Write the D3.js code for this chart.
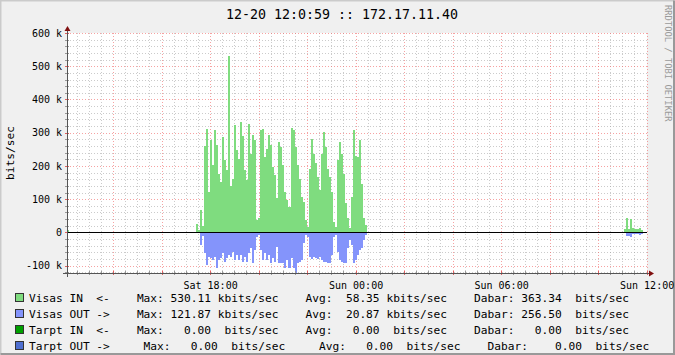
<!DOCTYPE html>
<html><head><meta charset="utf-8">
<script src="https://cdn.jsdelivr.net/npm/d3@7"></script>
<style>
html,body{margin:0;padding:0;background:#f0f0f0;}
svg{display:block;}
text{font-family:"DejaVu Sans Mono",monospace;}
</style></head><body>
<svg id="chart" width="675" height="355"></svg>
<script>
// ---------- data ----------
const chartTitle = "12-20 12:0:59 :: 172.17.11.40";
const unitLabel = "bits/sec";
const watermark = "RRDTOOL / TOBI OETIKER";
const domainStart = "2020-12-19T12:06";
const domainEnd = "2020-12-20T12:01";
const xLabelTimes = ["2020-12-19T18:00", "2020-12-20T00:00", "2020-12-20T06:00", "2020-12-20T12:00"];
const xLabels = ["Sat 18:00", "Sun 00:00", "Sun 06:00", "Sun 12:00"];
const yTicks = [-100, 0, 100, 200, 300, 400, 500, 600];           // kbits/sec
const yTickLabels = ["-100 k", "0", "100 k", "200 k", "300 k", "400 k", "500 k", "600 k"];
const yMin = -122.2, yMax = 600;
const stepMinutes = 5;

// segment 0 (single sample at start)
const seg0Start = "2020-12-19T12:06";
const visasIn0 = [6];
const visasOut0 = [0];
// segment 1 (Sat evening), kbits/sec
const seg1Start = "2020-12-19T17:24";
const visasIn1 = [26,7,67,20,259,310,122,279,202,307,
  262,177,152,287,217,187,530,139,162,322,
  247,222,332,289,187,157,325,235,294,279,
  37,42,307,312,227,252,292,262,197,172,
  102,272,257,202,122,97,77,315,307,257,
  202,162,107,92,37,15,190,282,237,209,
  167,127,237,302,257,192,167,122,32,17,
  217,272,237,177,87,42,12,107,309,229,
  227,279,147,42,22];
const visasOut1 = [0,0,38,10,63,98,73,78,83,73,
  108,83,78,63,88,78,68,73,58,83,
  68,83,68,88,73,88,63,48,93,53,
  13,8,53,83,63,83,68,93,78,88,
  43,93,93,93,108,83,108,78,108,122,
  93,88,83,33,8,13,73,81,75,78,
  81,73,83,88,88,93,93,68,13,8,
  58,83,88,93,93,48,23,38,93,83,
  68,53,48,23,8];
// segment 2 (Sun late morning)
const seg2Start = "2020-12-20T11:05";
const visasIn2 = [10,44,10,40,14,10,10,14,6];
const visasOut2 = [0,10,10,14,6,6,6,8,6];

// legend
const legendNames = ["Visas IN  <-", "Visas OUT ->", "Tarpt IN  <-", "Tarpt OUT ->"];
const maxValues = ["530.11", "121.87", "0.00", "0.00"];
const maxUnits = ["kbits/sec", "kbits/sec", "bits/sec", "bits/sec"];
const avgValues = ["58.35", "20.87", "0.00", "0.00"];
const avgUnits = ["kbits/sec", "kbits/sec", "bits/sec", "bits/sec"];
const curValues = ["363.34", "256.50", "0.00", "0.00"];
const curUnits = ["bits/sec", "bits/sec", "bits/sec", "bits/sec"];

// ---------- style ----------
const IN_COLOR = "#7fdc7f", OUT_COLOR = "#8494fb";
const legendColors = ["#7fdc7f", "#8494fb", "#00a000", "#4f6fd0"];
const MONO = '"DejaVu Sans Mono", monospace';

const parse = d3.timeParse("%Y-%m-%dT%H:%M");
const svg = d3.select("#chart");
const W = 675, H = 355;
const P = {left: 67, right: 647, top: 33, bottom: 273};

const x = d3.scaleTime().domain([parse(domainStart), parse(domainEnd)]).range([P.left, P.right]);
const y = d3.scaleLinear().domain([yMin, yMax]).range([P.bottom, P.top]);

// background + frame
svg.append("rect").attr("width", W).attr("height", H).attr("fill", "#f0f0f0");
svg.append("rect").attr("x", P.left).attr("y", P.top).attr("width", P.right - P.left).attr("height", P.bottom - P.top).attr("fill", "#fff");
svg.append("path").attr("d", `M0.5,${H-0.5}V0.5H${W-0.5}`).attr("stroke", "#cbcbcb").attr("fill", "none").attr("stroke-width", 2);
svg.append("path").attr("d", `M0.5,${H-1}H${W-1}V0.5`).attr("stroke", "#999").attr("fill", "none").attr("stroke-width", 2);

// grid (drawn beneath the data)
const grid = svg.append("g").attr("shape-rendering", "crispEdges");
const minorX = d3.timeMinute.every(30).range(parse(domainStart), parse(domainEnd));
const majorX = d3.timeHour.every(2).range(parse(domainStart), parse(domainEnd));
const isMajorT = t => t.getMinutes() === 0 && t.getHours() % 2 === 0;
const minorY = d3.range(-120, 601, 20).filter(v => v % 100 !== 0);
const majorY = d3.range(-100, 601, 100);
const minorStroke = "rgba(160,160,160,0.55)", majorStroke = "rgba(240,100,100,0.6)";
minorX.filter(t => !isMajorT(t)).forEach(t => {
  grid.append("line").attr("x1", Math.round(x(t)) + 0.5).attr("x2", Math.round(x(t)) + 0.5)
    .attr("y1", P.top).attr("y2", P.bottom).attr("stroke", minorStroke).attr("stroke-dasharray", "1,2");
});
minorY.forEach(v => {
  grid.append("line").attr("y1", Math.round(y(v)) + 0.5).attr("y2", Math.round(y(v)) + 0.5)
    .attr("x1", P.left).attr("x2", P.right).attr("stroke", minorStroke).attr("stroke-dasharray", "1,2");
});
majorX.forEach(t => {
  grid.append("line").attr("x1", Math.round(x(t)) + 0.5).attr("x2", Math.round(x(t)) + 0.5)
    .attr("y1", P.top).attr("y2", P.bottom).attr("stroke", majorStroke).attr("stroke-dasharray", "1,2");
});
majorY.filter(v => v !== 0).forEach(v => {
  grid.append("line").attr("y1", Math.round(y(v)) + 0.5).attr("y2", Math.round(y(v)) + 0.5)
    .attr("x1", P.left).attr("x2", P.right).attr("stroke", majorStroke).attr("stroke-dasharray", "1,2");
});

// bars
function drawSeries(start, inVals, outVals) {
  const t0 = parse(start);
  const times = inVals.map((_, i) => d3.timeMinute.offset(t0, i * stepMinutes));
  const x0 = i => Math.round(x(times[i]));
  const x1 = i => Math.round(x(d3.timeMinute.offset(times[i], stepMinutes)));
  const y0 = Math.round(y(0));
  const g = svg.append("g").attr("shape-rendering", "crispEdges");
  g.selectAll("rect.in").data(inVals).join("rect")
    .attr("x", (d, i) => x0(i))
    .attr("width", (d, i) => x1(i) - x0(i))
    .attr("y", d => Math.round(y(d))).attr("height", d => y0 - Math.round(y(d)))
    .attr("fill", IN_COLOR);
  g.selectAll("rect.out").data(outVals).join("rect")
    .attr("x", (d, i) => x0(i))
    .attr("width", (d, i) => x1(i) - x0(i))
    .attr("y", y0).attr("height", d => Math.round(y(-d)) - y0)
    .attr("fill", OUT_COLOR);
}
drawSeries(seg0Start, visasIn0, visasOut0);
drawSeries(seg1Start, visasIn1, visasOut1);
drawSeries(seg2Start, visasIn2, visasOut2);

// axis ticks
const tickG = svg.append("g").attr("shape-rendering", "crispEdges");
minorX.forEach(t => {
  const xx = Math.round(x(t)) + 0.5;
  tickG.append("line").attr("x1", xx).attr("x2", xx).attr("y1", P.bottom - 2).attr("y2", P.bottom + 2)
    .attr("stroke", isMajorT(t) ? "#e06060" : "#999");
});
d3.range(-120, 601, 20).forEach(v => {
  const yy = Math.round(y(v)) + 0.5;
  tickG.append("line").attr("y1", yy).attr("y2", yy).attr("x1", P.left - 2).attr("x2", P.left + 2)
    .attr("stroke", v % 100 === 0 ? "#e06060" : "#999");
});

// zero line
svg.append("line").attr("x1", P.left).attr("x2", P.right).attr("y1", Math.round(y(0)) + 0.5).attr("y2", Math.round(y(0)) + 0.5)
  .attr("stroke", "#000").attr("stroke-width", 1).attr("shape-rendering", "crispEdges");

// axis lines + arrows
const AX = "#555", ARROW = "#801010";
svg.append("line").attr("x1", P.left + 0.5).attr("x2", P.left + 0.5).attr("y1", P.top - 3).attr("y2", P.bottom + 4)
  .attr("stroke", AX).attr("shape-rendering", "crispEdges");
svg.append("line").attr("x1", P.left - 4).attr("x2", P.right + 4).attr("y1", P.bottom + 0.5).attr("y2", P.bottom + 0.5)
  .attr("stroke", AX).attr("shape-rendering", "crispEdges");
svg.append("path").attr("d", `M${P.left + 0.5},${P.top - 7}L${P.left - 2.5},${P.top - 2}L${P.left + 3.5},${P.top - 2}Z`).attr("fill", ARROW);
svg.append("path").attr("d", `M${P.right + 7},${P.bottom + 0.5}L${P.right + 2},${P.bottom - 2.5}L${P.right + 2},${P.bottom + 3.5}Z`).attr("fill", ARROW);

// axis labels via d3 axes
const xAxis = d3.axisBottom(x).tickValues(xLabelTimes.map(parse)).tickFormat((d, i) => xLabels[i]).tickSize(0).tickPadding(9);
const gx = svg.append("g").attr("transform", `translate(0,${P.bottom})`).call(xAxis);
gx.select(".domain").remove();
gx.selectAll("text").attr("font-family", MONO).attr("font-size", 10).attr("fill", "#000");

const yAxis = d3.axisLeft(y).tickValues(yTicks).tickFormat((d, i) => yTickLabels[i]).tickSize(0).tickPadding(5);
const gy = svg.append("g").attr("transform", `translate(${P.left},0)`).call(yAxis);
gy.select(".domain").remove();
gy.selectAll("text").attr("font-family", MONO).attr("font-size", 10).attr("fill", "#000");

// title, unit, watermark
svg.append("text").attr("x", 342).attr("y", 19).attr("text-anchor", "middle")
  .attr("font-size", 13.3).attr("fill", "#000").text(chartTitle);
svg.append("text").attr("transform", `translate(14,${(P.top + P.bottom) / 2}) rotate(-90)`).attr("text-anchor", "middle")
  .attr("font-size", 11.2).attr("fill", "#000").text(unitLabel);
svg.append("text").attr("transform", `translate(665,5) rotate(90)`).attr("text-anchor", "start")
  .attr("font-size", 8.8).attr("fill", "#9a9a9a").text(watermark);

// legend
const LX = 29, CW = 11.2 * 0.602, LFS = 11.2;
const layouts = [
  {max: 16, maxV: 26, maxU: 36, avg: 41, avgV: 51, avgU: 61, cur: 66, curV: 78, curU: 88},
  {max: 16, maxV: 26, maxU: 36, avg: 41, avgV: 51, avgU: 61, cur: 66, curV: 78, curU: 88},
  {max: 16, maxV: 26, maxU: 36, avg: 41, avgV: 51, avgU: 61, cur: 66, curV: 78, curU: 88},
  {max: 17, maxV: 27, maxU: 37, avg: 43, avgV: 53, avgU: 63, cur: 68, curV: 81, curU: 91}
];
const colX = c => LX + c * CW;
legendNames.forEach((name, i) => {
  const by = 302 + i * 16;
  const L = layouts[i];
  const g = svg.append("g").attr("font-size", LFS).attr("fill", "#000");
  svg.append("rect").attr("x", 15.5).attr("y", by - 8.5).attr("width", 8).attr("height", 8)
    .attr("fill", legendColors[i]).attr("stroke", "#333").attr("shape-rendering", "crispEdges");
  g.append("text").attr("x", colX(0)).attr("y", by).attr("xml:space", "preserve").style("white-space", "pre").text(name);
  g.append("text").attr("x", colX(L.max)).attr("y", by).text("Max:");
  g.append("text").attr("x", colX(L.maxV + 1)).attr("y", by).attr("text-anchor", "end").text(maxValues[i]);
  g.append("text").attr("x", colX(L.maxU + 1)).attr("y", by).attr("text-anchor", "end").text(maxUnits[i]);
  g.append("text").attr("x", colX(L.avg)).attr("y", by).text("Avg:");
  g.append("text").attr("x", colX(L.avgV + 1)).attr("y", by).attr("text-anchor", "end").text(avgValues[i]);
  g.append("text").attr("x", colX(L.avgU + 1)).attr("y", by).attr("text-anchor", "end").text(avgUnits[i]);
  g.append("text").attr("x", colX(L.cur)).attr("y", by).text("Dabar:");
  g.append("text").attr("x", colX(L.curV + 1)).attr("y", by).attr("text-anchor", "end").text(curValues[i]);
  g.append("text").attr("x", colX(L.curU + 1)).attr("y", by).attr("text-anchor", "end").text(curUnits[i]);
});
</script>
</body></html>
